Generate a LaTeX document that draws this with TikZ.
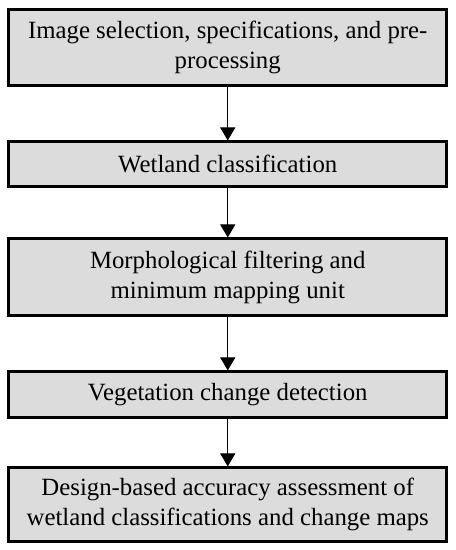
\documentclass[tikz,border=0pt]{standalone}
\usepackage{fontspec}
\setmainfont{Liberation Serif}
\usetikzlibrary{arrows.meta}
\definecolor{boxgray}{HTML}{DCDCDC}
\begin{document}
\begin{tikzpicture}[x=1pt,y=-1pt,
  stepbox/.style={draw=black, fill=boxgray, line width=2.6pt, minimum width=438pt, inner sep=0pt,
    align=center, font=\fontsize{24.8}{30}\selectfont},
  flow/.style={line width=1pt, -{Triangle[width=15pt,length=13pt]}, shorten >=-0.5pt}]
\useasboundingbox (0,0) rectangle (456,550);
\node[stepbox, minimum height=76pt] (b1) at (227.75,47.6) {Image selection, specifications, and pre-\\processing};
\node[stepbox, minimum height=45.5pt] (b2) at (227.75,164) {Wetland classification};
\node[stepbox, minimum height=77.5pt] (b3) at (227.75,277) {Morphological filtering and\\minimum mapping unit};
\node[stepbox, minimum height=46.5pt] (b4) at (227.75,394.5) {Vegetation change detection};
\node[stepbox, minimum height=74.5pt] (b5) at (227.75,504.5) {Design-based accuracy assessment of\\wetland classifications and change maps};
\draw[flow] (b1.south) -- (b2.north);
\draw[flow] (b2.south) -- (b3.north);
\draw[flow] (b3.south) -- (b4.north);
\draw[flow] (b4.south) -- (b5.north);
\end{tikzpicture}
\end{document}
